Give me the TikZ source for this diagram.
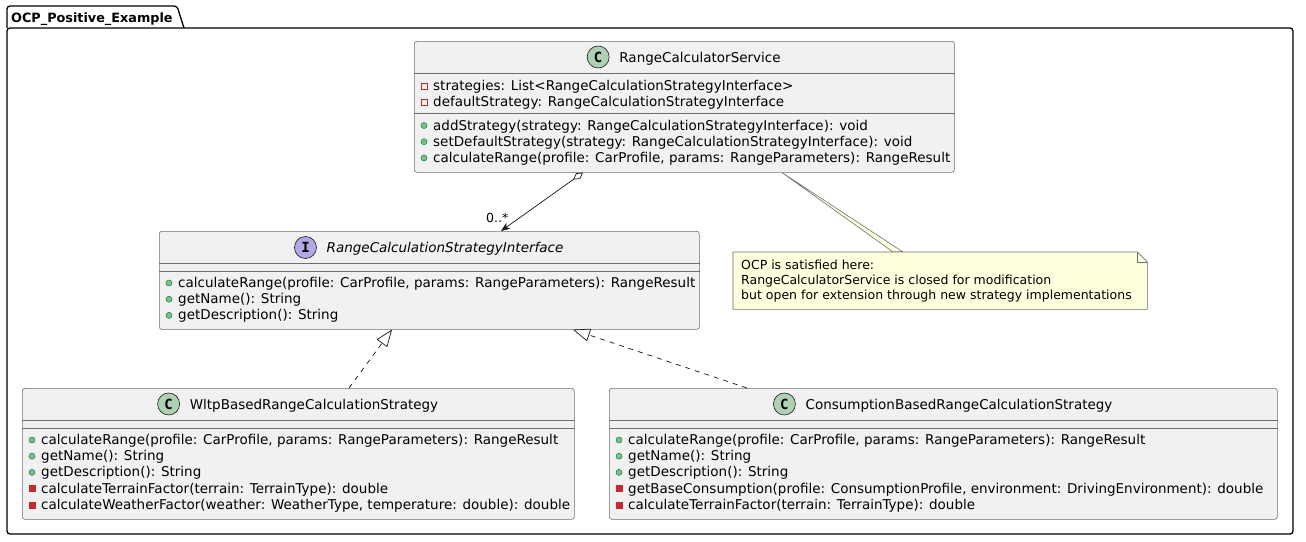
\documentclass[tikz,border=0pt]{standalone}
\usepackage{fontspec}
\setmainfont{DejaVu Sans}
\newfontfamily\spotfont{DejaVu Sans Mono}
\usetikzlibrary{arrows.meta,calc}
\definecolor{classbg}{HTML}{F1F1F1}
\definecolor{linec}{HTML}{181818}
\definecolor{boxline}{HTML}{6E6E6E}
\definecolor{privred}{HTML}{C82930}
\definecolor{pubfill}{HTML}{84BE84}
\definecolor{publine}{HTML}{038048}
\definecolor{cspot}{HTML}{ADD1B2}
\definecolor{ispot}{HTML}{B4A7E5}
\definecolor{notebg}{HTML}{FEFFDD}
\tikzset{
  classbox/.style={draw=boxline, line width=0.6pt, fill=classbg, rounded corners=2.5pt, inner sep=0pt, anchor=north west},
  sepline/.style={draw=boxline, line width=0.6pt},
  member/.style={anchor=base west, inner sep=0pt, font=\fontsize{13.5}{16}\selectfont},
  cname/.style={anchor=base, inner sep=0pt, font=\fontsize{13.5}{16}\selectfont},
  spot/.style={circle, draw=linec, line width=0.6pt, minimum size=22pt, inner sep=0pt, font=\spotfont\bfseries\fontsize{14}{14}\selectfont},
  notetxt/.style={anchor=base west, inner sep=0pt, font=\fontsize{12.5}{15}\selectfont},
  pkg/.style={draw=black, line width=1.3pt},
  agg/.style={draw=linec, line width=0.7pt, {Diamond[fill=white, length=12pt, width=7pt]}-{Stealth[length=9pt, width=7pt, inset=2.5pt]}},
  gen/.style={draw=linec, line width=0.7pt, dash pattern=on 5pt off 5pt, -{Triangle[open, fill=white, length=17pt, width=13pt]}},
  notebox/.style={fill=notebg, draw=boxline, line width=0.6pt, line join=round}
}
\newcommand\pubmeth[4]{\filldraw[fill=pubfill, draw=publine, line width=0.5pt] (#2+10,#3-4.5) circle[radius=3pt]; \node[member] (#1) at (#2+19,#3) {#4};}
\newcommand\privattr[4]{\draw[privred, line width=0.8pt] (#2+7,#3-7.5) rectangle (#2+13,#3-1.5); \node[member] (#1) at (#2+19,#3) {#4};}
\newcommand\privmeth[4]{\filldraw[fill=privred, draw=privred, line width=0.5pt] (#2+7,#3-7.5) rectangle (#2+13,#3-1.5); \node[member] (#1) at (#2+19,#3) {#4};}
\begin{document}
\begin{tikzpicture}[x=1pt, y=-1pt]
\useasboundingbox (0,0) rectangle (1306,541);
\fill[white] (0,0) rectangle (1306,541);

% package
\draw[pkg, rounded corners=3pt] (7,28) -- (7,6) -- (177,6) -- (184,28);
\draw[pkg, rounded corners=3pt] (7,28) rectangle (1293,534);
\node[anchor=base west, inner sep=0pt, font=\bfseries\fontsize{12.8}{15}\selectfont] (pkgtitle) at (11,22) {OCP\_Positive\_Example};

% RangeCalculatorService
\node[classbox, minimum width=540pt, minimum height=131pt] (rcs) at (414,41) {};
\draw[sepline] (rcs.west |- 0,73.5) -- (rcs.east |- 0,73.5);
\draw[sepline] (rcs.west |- 0,113.5) -- (rcs.east |- 0,113.5);
\node[cname] (rcsname) at (700,62) {RangeCalculatorService};
\coordinate (rcsspotc) at (rcsname.west |- 0,57);
\node[spot, fill=cspot] (rcsspot) at ([xshift=-21pt]rcsspotc) {C};
\privattr{r1}{414}{90.5}{strategies: List<RangeCalculationStrategyInterface>}
\privattr{r2}{414}{106.5}{defaultStrategy: RangeCalculationStrategyInterface}
\pubmeth{r3}{414}{130}{addStrategy(strategy: RangeCalculationStrategyInterface): void}
\pubmeth{r4}{414}{146.2}{setDefaultStrategy(strategy: RangeCalculationStrategyInterface): void}
\pubmeth{r5}{414}{162.4}{calculateRange(profile: CarProfile, params: RangeParameters): RangeResult}

% Interface
\node[classbox, minimum width=540pt, minimum height=98pt] (intf) at (159,231) {};
\draw[sepline] (intf.west |- 0,263) -- (intf.east |- 0,263);
\draw[sepline] (intf.west |- 0,271) -- (intf.east |- 0,271);
\node[cname, font=\itshape\fontsize{13.5}{16}\selectfont] (intfname) at (445,252.5) {RangeCalculationStrategyInterface};
\coordinate (intfspotc) at (intfname.west |- 0,247.5);
\node[spot, fill=ispot] (intfspot) at ([xshift=-21pt]intfspotc) {I};
\pubmeth{i1}{159}{287.5}{calculateRange(profile: CarProfile, params: RangeParameters): RangeResult}
\pubmeth{i2}{159}{303.7}{getName(): String}
\pubmeth{i3}{159}{319.9}{getDescription(): String}

% Wltp
\node[classbox, minimum width=552pt, minimum height=131pt] (wltp) at (22,388) {};
\draw[sepline] (wltp.west |- 0,420) -- (wltp.east |- 0,420);
\draw[sepline] (wltp.west |- 0,428) -- (wltp.east |- 0,428);
\node[cname] (wltpname) at (314,409) {WltpBasedRangeCalculationStrategy};
\coordinate (wltpspotc) at (wltpname.west |- 0,404);
\node[spot, fill=cspot] (wltpspot) at ([xshift=-21pt]wltpspotc) {C};
\pubmeth{w1}{22}{444.5}{calculateRange(profile: CarProfile, params: RangeParameters): RangeResult}
\pubmeth{w2}{22}{460.7}{getName(): String}
\pubmeth{w3}{22}{476.9}{getDescription(): String}
\privmeth{w4}{22}{493.1}{calculateTerrainFactor(terrain: TerrainType): double}
\privmeth{w5}{22}{509.3}{calculateWeatherFactor(weather: WeatherType, temperature: double): double}

% Consumption
\node[classbox, minimum width=668pt, minimum height=131pt] (cons) at (609,388) {};
\draw[sepline] (cons.west |- 0,420) -- (cons.east |- 0,420);
\draw[sepline] (cons.west |- 0,428) -- (cons.east |- 0,428);
\node[cname] (consname) at (959,409) {ConsumptionBasedRangeCalculationStrategy};
\coordinate (consspotc) at (consname.west |- 0,404);
\node[spot, fill=cspot] (consspot) at ([xshift=-21pt]consspotc) {C};
\pubmeth{c1}{609}{444.5}{calculateRange(profile: CarProfile, params: RangeParameters): RangeResult}
\pubmeth{c2}{609}{460.7}{getName(): String}
\pubmeth{c3}{609}{476.9}{getDescription(): String}
\privmeth{c4}{609}{493.1}{getBaseConsumption(profile: ConsumptionProfile, environment: DrivingEnvironment): double}
\privmeth{c5}{609}{509.3}{calculateTerrainFactor(terrain: TerrainType): double}

% Note
\node[inner sep=0pt, minimum width=414pt, minimum height=57pt, anchor=north west] (note) at (733,252) {};
\filldraw[notebox] ([xshift=368pt]rcs.south west) -- ([xshift=160pt]note.north west) -- ([xshift=170pt]note.north west) -- cycle;
\filldraw[notebox] (note.north west) -- ([xshift=-10pt]note.north east) -- ([yshift=-10pt]note.north east) -- (note.south east) -- (note.south west) -- cycle;
\draw[notebox, fill=none] ([xshift=-10pt]note.north east) -- ([xshift=-10pt,yshift=-10pt]note.north east) -- ([yshift=-10pt]note.north east);
\node[notetxt] (n1) at (741,269.5) {OCP is satisfied here:};
\node[notetxt] (n2) at (741,284.7) {RangeCalculatorService is closed for modification};
\node[notetxt] (n3) at (741,299.9) {but open for extension through new strategy implementations};

% connectors
\draw[agg] ([xshift=169pt]rcs.south west) -- ([xshift=342pt]intf.north west);
\node[anchor=base west, inner sep=0pt, font=\fontsize{12.5}{15}\selectfont] (multi) at (486,222) {0..*};
\draw[gen] ([xshift=327pt]wltp.north west) -- ([xshift=233pt]intf.south west);
\draw[gen] ([xshift=138pt]cons.north west) -- ([xshift=414pt]intf.south west);
\end{tikzpicture}
\end{document}
